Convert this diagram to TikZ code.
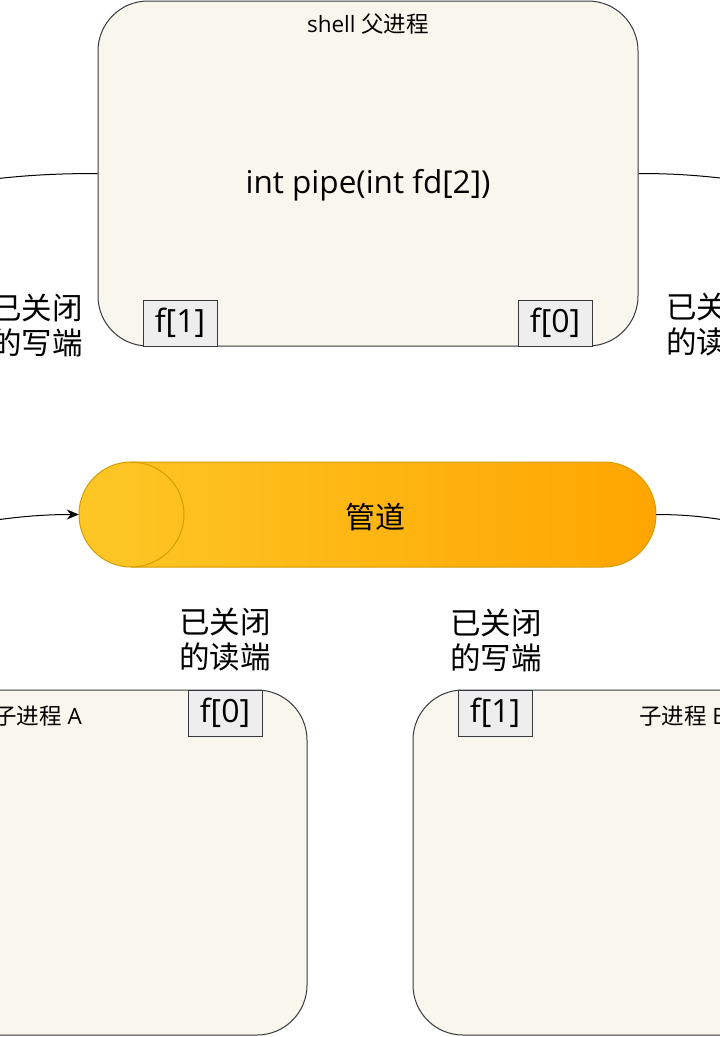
\documentclass[tikz,border=0pt]{standalone}
\usepackage{fontspec}
\usetikzlibrary{arrows.meta}
\setmainfont{Open Sans}
\newfontfamily\cjk{Noto Sans CJK SC}
\definecolor{boxfill}{HTML}{F9F7ED}
\definecolor{boxline}{HTML}{36393D}
\definecolor{ffill}{HTML}{EEEEEE}
\definecolor{pipeL}{HTML}{FDC726}
\definecolor{pipeR}{HTML}{FFA500}
\definecolor{pipeLine}{HTML}{D79B00}
\tikzset{
  proc/.style={draw=boxline, fill=boxfill, line width=1pt, rounded corners=50pt, minimum width=540pt, minimum height=345pt, inner sep=0pt},
  fbox/.style={draw=boxline, fill=ffill, line width=1pt, minimum width=74pt, minimum height=46pt, inner sep=0pt, font=\fontsize{32}{34}\selectfont},
  title/.style={font=\fontsize{22.5}{26}\selectfont, inner sep=0pt},
  lbl/.style={font=\cjk\fontsize{30.5}{35}\selectfont, align=center, inner sep=0pt},
  conn/.style={line width=1pt, black},
}
\begin{document}
\begin{tikzpicture}[x=1pt,y=-1pt]
\useasboundingbox (0,0) rectangle (720,1037);
\clip (0,0) rectangle (720,1037);
\fill[white] (0,0) rectangle (720,1037);
% parent
\node[proc] (parent) at (368,173.5) {};
\node[title] (ptitle) at (368,24) {shell {\cjk 父进程}};
\node[font=\fontsize{31.5}{34}\selectfont, inner sep=0pt] (pfunc) at (368,185) {int pipe(int fd[2])};
\node[fbox] (pf1) at (180,323) {f[1]};
\node[fbox] (pf0) at (555,323) {f[0]};
% children
\node[proc] (childA) at (37,862.5) {};
\node[proc] (childB) at (683,862.5) {};
\node[title] (atitle) at (38,716) {{\cjk 子进程} A};
\node[title] (btitle) at (683,716) {{\cjk 子进程} B};
\node[fbox] (af0) at (225,713) {f[0]};
\node[fbox] (bf1) at (495,713) {f[1]};
% pipe
\node[minimum width=577pt, minimum height=105pt, inner sep=0pt] (pipe) at (367.5,514.5) {};
\shade[left color=pipeL, right color=pipeR, draw=pipeLine, line width=1pt]
  (131,462) -- (604,462) arc[start angle=-90, end angle=90, x radius=52, y radius=52.5]
  -- (131,567) arc[start angle=90, end angle=270, x radius=52, y radius=52.5] -- cycle;
\draw[pipeLine, line width=1pt] (131,462) arc[start angle=-90, end angle=90, x radius=53, y radius=52.5];
\node[font=\cjk\fontsize{30}{34}\selectfont, inner sep=0pt] (pipetext) at (375,517) {管道};
% labels
\node[lbl] (l1) at (37,325) {已关闭\\的写端};
\node[lbl] (l2) at (712,325) {已关闭\\的读端};
\node[lbl] (l3) at (225,640) {已关闭\\的读端};
\node[lbl] (l4) at (496,640) {已关闭\\的写端};
% connectors
\coordinate (c1) at (-60,186);
\coordinate (c2) at (780,186);
\coordinate (c3) at (-60,528);
\coordinate (c4) at (780,530);
\draw[conn] (parent.west) to[out=180, in=8] (c1);
\draw[conn] (parent.east) to[out=0, in=172] (c2);
\draw[conn, -{Stealth[length=12pt, width=10pt]}] (c3) to[out=8, in=180] (pipe.west);
\draw[conn] (pipe.east) to[out=0, in=170] (c4);
\end{tikzpicture}
\end{document}
